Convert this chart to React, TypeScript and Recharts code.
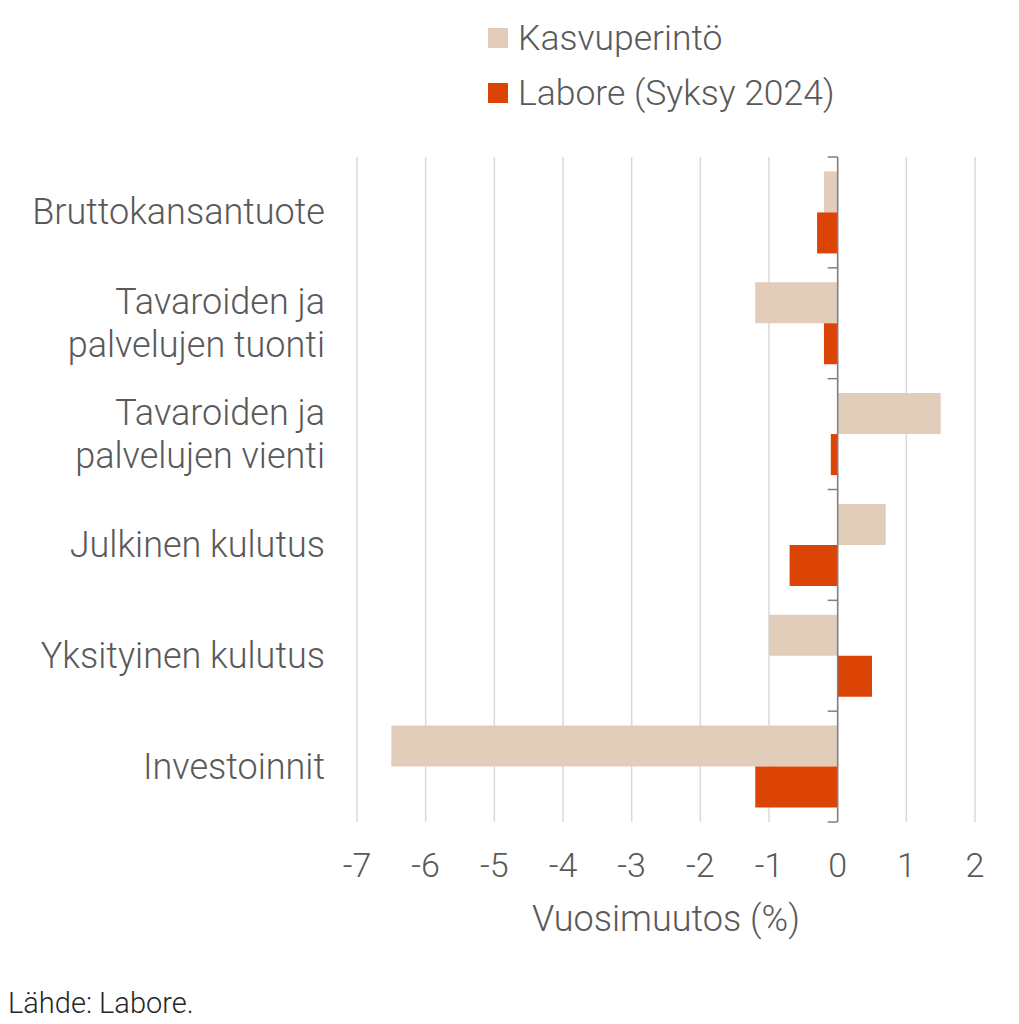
import { BarChart, Bar, XAxis, YAxis, CartesianGrid, ReferenceLine, Legend } from "recharts"

const categories = [
  "Bruttokansantuote",
  "Tavaroiden ja\npalvelujen tuonti",
  "Tavaroiden ja\npalvelujen vienti",
  "Julkinen kulutus",
  "Yksityinen kulutus",
  "Investoinnit",
]
const kasvuperinto = [-0.2, -1.2, 1.5, 0.7, -1.0, -6.5]
const labore = [-0.3, -0.2, -0.1, -0.7, 0.5, -1.2]
const xTicks = [-7, -6, -5, -4, -3, -2, -1, 0, 1, 2]

const seriesNames = ["Kasvuperintö", "Labore (Syksy 2024)"]

const data = categories.map((name, i) => ({
  name,
  kasvuperinto: kasvuperinto[i],
  labore: labore[i],
}))

const FONT = "Roboto, sans-serif"
const TEXT = "#595959"
const BEIGE = "#E2CCBA"
const ORANGE = "#DC4405"

function CategoryTick(props: any) {
  const { x, y, payload } = props
  const lines = String(payload.value).split("\n")
  const lh = 43
  const start = -((lines.length - 1) * lh) / 2 + 12
  return (
    <text x={x} y={y} textAnchor="end" fill={TEXT} fontSize={36} fontFamily={FONT} fontWeight={300}>
      {lines.map((l, i) => (
        <tspan key={i} x={x} dy={i === 0 ? start : lh}>
          {l}
        </tspan>
      ))}
    </text>
  )
}

// zero line with small tick marks at the category boundaries
function ZeroAxis(props: any) {
  const { x1, y1, y2 } = props
  const n = categories.length
  const marks = Array.from({ length: n + 1 }, (_, i) => y1 + ((y2 - y1) * i) / n)
  return (
    <g>
      <line x1={x1} x2={x1} y1={y1} y2={y2} stroke="#7f7f7f" strokeWidth={1.5} />
      {marks.map((y, i) => (
        <line key={i} x1={x1 - 10} x2={x1} y1={y} y2={y} stroke="#7f7f7f" strokeWidth={1.5} />
      ))}
    </g>
  )
}

function LegendContent(props: any) {
  const { payload } = props
  return (
    <div style={{ fontFamily: FONT, fontWeight: 300 }}>
      {(payload || []).map((entry: any, i: number) => (
        <div key={i} style={{ display: "flex", alignItems: "center", height: 55 }}>
          <span style={{ width: 20, height: 20, background: entry.color, marginRight: 10, display: "inline-block" }} />
          <span style={{ fontSize: 35.5, color: TEXT, whiteSpace: "nowrap" }}>{entry.value}</span>
        </div>
      ))}
    </div>
  )
}

export default function App() {
  return (
    <div style={{ position: "absolute", left: 0, top: 0, width: 1019, height: 1024, background: "#fff" }}>
      <BarChart
        width={1019}
        height={1024}
        data={data}
        layout="vertical"
        margin={{ top: 157, right: 44, bottom: 82, left: 0 }}
        barCategoryGap="13%"
        barGap={0}
      >
        <CartesianGrid horizontal={false} stroke="#d9d9d9" strokeWidth={1.5} />
        <XAxis
          type="number"
          domain={[-7, 2]}
          ticks={xTicks}
          axisLine={false}
          tickLine={false}
          tickSize={0}
          tickMargin={31}
          height={120}
          tick={{ fill: TEXT, fontSize: 34, fontFamily: FONT, fontWeight: 300 }}
          label={{
            value: "Vuosimuutos (%)",
            position: "insideBottom",
            offset: 11,
            fill: TEXT,
            fontSize: 36,
            fontFamily: FONT,
            fontWeight: 300,
          }}
        />
        <YAxis
          type="category"
          dataKey="name"
          width={357}
          axisLine={false}
          tickLine={false}
          tickSize={0}
          tickMargin={32}
          interval={0}
          tick={<CategoryTick />}
        />
        <Legend
          layout="vertical"
          align="center"
          verticalAlign="middle"
          content={<LegendContent />}
          wrapperStyle={{ top: 10, left: 488, width: "auto", height: "auto" }}
        />
        <Bar dataKey="kasvuperinto" name={seriesNames[0]} fill={BEIGE} isAnimationActive={false} />
        <Bar dataKey="labore" name={seriesNames[1]} fill={ORANGE} isAnimationActive={false} />
        <ReferenceLine x={0} shape={<ZeroAxis />} />
      </BarChart>
      <div
        style={{
          position: "absolute",
          left: 8,
          top: 986,
          fontFamily: FONT,
          fontWeight: 300,
          fontSize: 29,
          color: "#262626",
        }}
      >
        Lähde: Labore.
      </div>
    </div>
  )
}
